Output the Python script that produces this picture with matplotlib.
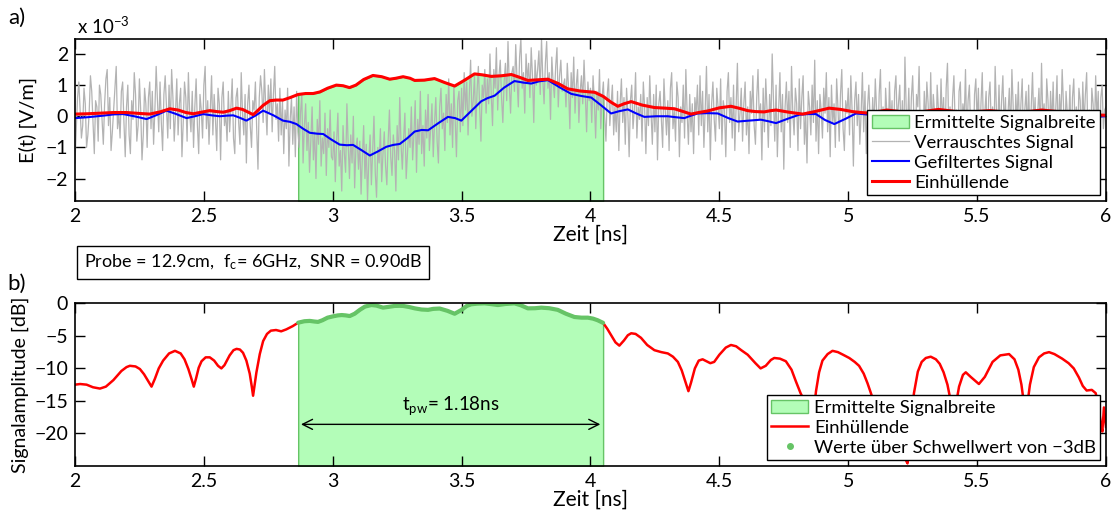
import numpy as np
import matplotlib
matplotlib.use('Agg')
import matplotlib.pyplot as plt
from matplotlib.lines import Line2D
from matplotlib.ticker import FormatStrFormatter

plt.rcParams['font.family'] = ['Lato', 'DejaVu Sans']
plt.rcParams['mathtext.default'] = 'regular'
plt.rcParams['axes.unicode_minus'] = True

# --- data (top panel, values in 1e-3 V/m; noisy in 1e-4 V/m steps of 0.005 ns) ---
noisy = [
    -15, -4, 6, 11, 2, -7, -3, 9, 4, -10, -6, 1, 13, 8, -2, -12, 5, 3, -8, 10,
    7, -1, -9, 4, 12, 15, -3, 6, -11, -5, 2, 9, 16, -4, 1, -7, 8, 11, -2, -13,
    3, 10, -6, -12, 5, -1, 14, 7, -8, -3, 12, 2, -14, -6, 9, 4, -10, 6, 11, -4,
    8, -9, 2, 16, 5, -5, 11, -2, -11, 7, 13, 3, -7, 10, -4, 15, 6, -8, 1, 12,
    -6, 4, 9, -13, -2, 11, 6, -8, 14, 1, -5, 8, -10, 3, 12, -3, -12, 7, 2, -7,
    10, 16, -4, 5, -9, 2, 13, -6, 7, -1, -11, 9, 4, -14, 6, 11, -3, 1, -8, 8,
    -5, 3, 12, -7, -12, 6, 9, -2, -9, 14, 1, -6, 7, -15, 4, 10, -3, -10, 5, 2,
    11, -4, -17, 6, 13, 8, -2, 15, 3, -6, 10, 1, 12, -5, 7, 16, -1, 4, -8, 9,
    -6, 5, -12, 2, -4, 9, -16, -1, 6, -9, 3, -13, 8, -5, -10, 1, 7, -15, -3, 4,
    -11, -2, -18, -8, 3, -14, -5, -20, -1, -9, 5, -16, -7, -12, 1, -19, -4, -10, 2, -13,
    -14, -5, -21, -8, 1, -16, -11, -24, -3, -12, -18, 4, -9, -20, -6, -15, 0, -23, -10, -7,
    -17, -8, -25, -13, -3, -20, -9, -27, -14, -6, -22, -11, 0, -18, -26, -10, -15, -4, -21, -12,
    -5, -16, -22, -8, 2, -13, -19, -6, -11, -24, -3, -14, 6, -9, -17, -7, 1, -20, -12, -4,
    -10, 3, -14, -6, 5, -18, -1, -9, 8, -12, -3, -16, 2, -7, 7, -11, -4, 4, -13, -2,
    6, -8, -15, 3, 9, -4, 1, -11, 7, -2, 12, -6, 4, -10, 10, -1, -13, 5, 8, -5,
    9, -3, 14, 2, 11, -6, 7, 18, 0, 5, 13, -4, 8, 16, 3, -8, 10, 6, 15, 1,
    12, 4, 20, 7, -3, 15, 9, 22, 2, 13, 18, 6, -2, 11, 17, 5, 24, 10, 1, 14,
    16, 8, 23, 12, 3, 19, 25, 9, 14, 1, 20, 11, 17, 6, 22, 13, -2, 18, 10, 15,
    21, 7, 25, 12, 4, 17, 24, 9, 14, -1, 19, 11, 6, 16, 22, 3, 13, 18, 8, 10,
    12, 3, 17, 9, -4, 14, 6, 19, 1, 10, 15, -2, 8, 13, 4, 18, 7, -5, 11, 5,
    9, -2, 13, 5, -7, 8, 2, 15, -4, 6, 11, 0, -8, 7, 12, -3, 4, 10, -6, 3,
    -5, 8, -11, 4, 12, -2, 6, -9, 9, 1, -13, 5, 10, -4, 2, 14, -7, 3, -1, 7,
    -8, 11, 3, -12, 6, -3, 13, 1, -9, 7, -5, 10, -14, 4, 8, -1, -10, 12, 2, -6,
    5, -11, 9, 14, -4, 2, -8, 11, 6, -13, 3, -2, 10, -7, 15, 1, -9, 7, -5, 4,
    -12, 6, 1, 10, -6, 13, -3, 8, -10, 2, 16, -5, 7, -14, 4, 11, -1, -8, 9, 3,
    -4, 12, -9, 5, 2, -13, 8, 14, -2, 6, -7, 10, -11, 3, 17, -5, 1, 9, -8, 4,
    11, -6, 3, -12, 8, 1, 13, -3, -9, 6, 15, -1, 4, -14, 9, -5, 12, 2, -10, 7,
    -3, 20, 5, -8, 10, -13, 2, 14, -5, 7, -17, 3, 11, -2, 8, -10, 16, 1, -6, 9,
    4, -11, 12, -4, 6, 13, -9, 1, -15, 8, 3, -6, 10, -2, 18, -8, 5, -12, 7, 2,
    -7, 9, 1, 14, -5, 6, -13, 10, -2, 4, -10, 12, 3, -8, 7, 15, -4, -11, 5, 1,
    9, -6, 13, 2, -16, 5, 11, -3, 7, -9, 1, 14, -5, 8, -12, 3, 10, -1, -7, 6,
    -4, 12, 2, -10, 7, 15, -6, 3, -13, 9, 1, -8, 11, -3, 5, -14, 8, 13, -2, 4,
    10, -7, 5, -12, 19, 2, -4, 9, -9, 6, 13, -1, -11, 7, 3, 16, -6, 1, -10, 8,
    -3, 11, 4, -8, 14, -5, 7, 1, -13, 10, 2, -6, 12, -2, 6, -11, 9, 17, -4, 3,
    -9, 6, 13, -3, 2, -12, 8, 11, -6, 4, -1, 15, -8, 5, 10, -4, 1, -14, 7, 12,
    -2, 9, -10, 4, 14, -6, 1, 8, -12, 6, 11, -3, 3, -9, 16, 2, -5, 10, -7, 5,
    13, -4, 6, -11, 1, 9, -7, 15, 3, -13, 7, -2, 11, -6, 4, 12, -9, 2, 8, -5,
    10, -8, 3, 14, -3, 6, -12, 1, 9, -5, 17, -1, 4, -10, 12, 5, -7, 8, -3, 11,
    -6, 2, 13, -9, 7, -2, 15, 4, -11, 8, 1, -5, 10, -13, 6, 12, -4, 3, -8, 9,
    5, -10, 11, -3, 7, 14, -7, 2, -12, 9, 4, -6, 13, -1, 8, -15, 6, 10, -4, 2,
    3]

filt_t = [2.000, 2.05, 2.110, 2.15, 2.187, 2.23, 2.278, 2.32, 2.355, 2.39,
          2.433, 2.465, 2.497, 2.53, 2.562, 2.59, 2.614, 2.64, 2.665, 2.70,
          2.730, 2.77, 2.807, 2.835, 2.859, 2.885, 2.911, 2.94, 2.963, 2.995,
          3.027, 3.055, 3.079, 3.11, 3.144, 3.175, 3.208, 3.235, 3.260, 3.29,
          3.318, 3.345, 3.370, 3.41, 3.447, 3.475, 3.499, 3.535, 3.576, 3.60,
          3.628, 3.665, 3.705, 3.74, 3.770, 3.80, 3.835, 3.88, 3.925, 3.965,
          4.003, 4.04, 4.080, 4.11, 4.145, 4.175, 4.209, 4.255, 4.300, 4.33,
          4.364, 4.39, 4.416, 4.455, 4.494, 4.535, 4.571, 4.615, 4.661, 4.69,
          4.720, 4.765, 4.810, 4.845, 4.875, 4.91, 4.946, 4.99, 5.030, 5.081,
          5.15, 5.25, 5.35, 5.45, 5.55, 5.65, 5.75, 5.85, 5.95, 6.0]
filt_v = [-0.06, -0.03, 0.02, 0.06, 0.07, 0.0, -0.09, 0.05, 0.18, 0.08,
          -0.06, 0.0, 0.07, 0.03, 0.0, 0.02, 0.03, -0.05, -0.14, 0.02,
          0.18, 0.03, -0.14, -0.18, -0.25, -0.40, -0.53, -0.56, -0.57, -0.75,
          -0.91, -0.93, -0.92, -1.08, -1.26, -1.13, -0.98, -0.92, -0.89, -0.70,
          -0.49, -0.44, -0.45, -0.22, -0.02, -0.06, -0.14, 0.15, 0.48, 0.58,
          0.66, 0.92, 1.13, 1.08, 1.05, 1.12, 1.16, 0.93, 0.72, 0.65,
          0.60, 0.36, 0.09, 0.16, 0.22, 0.10, -0.02, 0.0, 0.0, -0.03,
          -0.06, 0.02, 0.09, 0.10, 0.09, -0.06, -0.17, -0.14, -0.11, -0.16,
          -0.22, -0.08, 0.05, 0.07, 0.07, -0.12, -0.25, -0.08, 0.09, 0.05,
          -0.10, 0.10, -0.15, 0.05, -0.10, 0.10, -0.05, 0.05, -0.02, 0.0]

env_t = [2.000, 2.05, 2.10, 2.15, 2.20, 2.25, 2.29, 2.33, 2.368, 2.40,
         2.43, 2.459, 2.49, 2.523, 2.55, 2.575, 2.60, 2.627, 2.65, 2.675,
         2.691, 2.705, 2.73, 2.756, 2.78, 2.807, 2.835, 2.866, 2.895, 2.924,
         2.95, 2.98, 3.014, 3.04, 3.065, 3.09, 3.12, 3.156, 3.19, 3.221,
         3.245, 3.273, 3.30, 3.318, 3.355, 3.395, 3.435, 3.473, 3.51, 3.550,
         3.58, 3.615, 3.655, 3.693, 3.725, 3.757, 3.795, 3.835, 3.875, 3.912,
         3.96, 4.016, 4.049, 4.08, 4.106, 4.13, 4.158, 4.20, 4.248, 4.29,
         4.326, 4.36, 4.390, 4.42, 4.455, 4.50, 4.545, 4.58, 4.610, 4.64,
         4.674, 4.70, 4.720, 4.77, 4.823, 4.87, 4.926, 4.97, 5.016, 5.05,
         5.081, 5.15, 5.25, 5.35, 5.45, 5.55, 5.65, 5.75, 5.85, 5.95, 6.0]
env_v = [0.07, 0.08, 0.10, 0.12, 0.12, 0.09, 0.07, 0.14, 0.24, 0.20,
         0.12, 0.08, 0.13, 0.18, 0.15, 0.13, 0.18, 0.26, 0.22, 0.12,
         0.05, 0.15, 0.35, 0.50, 0.52, 0.52, 0.60, 0.70, 0.73, 0.73,
         0.78, 0.90, 1.00, 0.98, 0.92, 1.00, 1.18, 1.31, 1.27, 1.19,
         1.22, 1.27, 1.22, 1.15, 1.16, 1.21, 1.08, 0.97, 1.15, 1.36,
         1.33, 1.28, 1.30, 1.34, 1.25, 1.15, 1.17, 1.19, 1.05, 0.88,
         0.81, 0.77, 0.64, 0.45, 0.32, 0.40, 0.47, 0.36, 0.28, 0.26,
         0.24, 0.15, 0.07, 0.12, 0.17, 0.27, 0.32, 0.25, 0.18, 0.15,
         0.14, 0.18, 0.20, 0.13, 0.07, 0.15, 0.26, 0.22, 0.15, 0.12,
         0.10, 0.20, 0.10, 0.22, 0.12, 0.18, 0.10, 0.20, 0.12, 0.05, 0.03]

# --- data (bottom panel, dB) ---
db_t = [2.000, 2.02, 2.045, 2.07, 2.097, 2.12, 2.149, 2.18, 2.20, 2.213,
        2.235, 2.252, 2.268, 2.283, 2.297, 2.31, 2.325, 2.342, 2.365, 2.388,
        2.41, 2.425, 2.44, 2.452, 2.461, 2.47, 2.48, 2.491, 2.507, 2.523,
        2.54, 2.555, 2.568, 2.58, 2.60, 2.615, 2.627, 2.64, 2.652, 2.665,
        2.678, 2.686, 2.691, 2.697, 2.704, 2.717, 2.730, 2.745, 2.76, 2.78,
        2.80, 2.82, 2.845, 2.866,
        2.89, 2.911, 2.93, 2.943, 2.96, 2.98, 3.001, 3.02, 3.035, 3.05,
        3.066, 3.085, 3.105, 3.125, 3.150, 3.17, 3.195, 3.215, 3.240, 3.26,
        3.273, 3.295, 3.318, 3.345, 3.370, 3.39, 3.415, 3.445, 3.473, 3.50,
        3.52, 3.537, 3.56, 3.589, 3.615, 3.641, 3.67, 3.705, 3.73, 3.757,
        3.785, 3.809, 3.84, 3.873, 3.905, 3.938, 3.965, 3.990, 4.01, 4.028,
        4.049,
        4.065, 4.080, 4.097, 4.112, 4.13, 4.145, 4.158, 4.175, 4.196, 4.22,
        4.248, 4.275, 4.300, 4.32, 4.339, 4.354, 4.368, 4.380, 4.39, 4.405,
        4.42, 4.435, 4.45, 4.465, 4.48, 4.50, 4.525, 4.545, 4.565, 4.585,
        4.610, 4.64, 4.66, 4.68, 4.70, 4.713, 4.735, 4.758, 4.78, 4.797,
        4.815, 4.836, 4.85, 4.857, 4.865, 4.875, 4.887, 4.90, 4.92, 4.939,
        4.96, 4.98, 5.004, 5.025, 5.042, 5.06, 5.075, 5.088, 5.11, 5.14,
        5.17, 5.20, 5.225, 5.23, 5.236, 5.245, 5.255, 5.27, 5.285, 5.301,
        5.32, 5.34, 5.355, 5.37, 5.385, 5.40, 5.41, 5.418, 5.43, 5.445,
        5.456, 5.475, 5.507, 5.53, 5.56, 5.59, 5.624, 5.645, 5.66, 5.672,
        5.682, 5.688, 5.695, 5.705, 5.72, 5.74, 5.76, 5.779, 5.80, 5.83,
        5.855, 5.875, 5.895, 5.91, 5.925, 5.945, 5.96, 5.97, 5.98, 5.986,
        5.992, 5.996, 6.0]
db_v = [-12.5, -12.4, -12.5, -12.9, -13.1, -12.8, -11.8, -10.4, -9.8, -9.6,
        -9.7, -10.1, -10.9, -11.9, -12.8, -11.6, -10.0, -8.8, -7.7, -7.3,
        -7.7, -8.6, -10.1, -11.6, -12.8, -11.5, -9.9, -8.9, -8.3, -8.3,
        -8.8, -9.6, -10.0, -9.5, -8.0, -7.2, -7.0, -7.1, -7.6, -8.8,
        -10.8, -12.8, -14.2, -12.5, -10.6, -7.8, -5.8, -4.7, -4.2, -4.1,
        -4.3, -4.0, -3.5, -2.97,
        -2.75, -2.7, -2.8, -2.85, -2.6, -2.2, -2.0, -1.85, -1.8, -1.85,
        -1.95, -1.6, -1.0, -0.5, -0.26, -0.35, -0.66, -0.55, -0.4, -0.38,
        -0.4, -0.55, -0.77, -0.95, -1.0, -0.85, -0.8, -1.15, -1.6, -1.0,
        -0.4, -0.15, -0.05, 0.0, -0.12, -0.26, -0.1, 0.0, -0.3, -0.77,
        -0.75, -0.66, -0.75, -1.0, -1.6, -2.1, -2.2, -2.2, -2.35, -2.6,
        -3.0,
        -3.9, -4.9, -6.0, -6.5, -5.7, -4.9, -4.6, -4.7, -5.3, -6.4,
        -7.2, -7.5, -7.7, -8.2, -9.0, -10.3, -12.0, -13.5, -12.2, -10.0,
        -8.8, -8.6, -8.9, -9.2, -9.0, -7.9, -6.8, -6.4, -6.6, -7.2,
        -7.9, -9.2, -10.0, -9.6, -8.7, -8.4, -8.5, -8.9, -10.2, -12.0,
        -13.8, -15.5, -18.5, -20.0, -17.0, -13.5, -10.6, -8.8, -7.8, -7.3,
        -7.5, -7.9, -8.4, -9.0, -9.6, -10.8, -12.3, -13.8, -16.5, -18.0,
        -19.5, -21.5, -24.2, -24.6, -22.5, -17.5, -13.8, -10.5, -9.0, -8.4,
        -8.2, -8.6, -9.3, -10.6, -12.5, -15.5, -18.5, -15.5, -12.8, -11.0,
        -10.6, -11.3, -12.4, -11.3, -9.0, -8.0, -7.8, -8.6, -10.2, -12.5,
        -15.5, -18.5, -15.5, -12.5, -9.8, -8.3, -7.7, -7.5, -7.8, -8.5,
        -9.2, -10.0, -11.4, -12.7, -13.4, -13.3, -13.8, -15.5, -18.5, -19.7,
        -16.0, -17.5, -19.0]

t_start, t_end = 2.866, 4.049
pw_text = r'$t_{pw}$= 1.18ns'
info_text = r'Probe = 12.9cm,  $f_c$= 6GHz,  SNR = 0.90dB'

fill_c = '#b3fdb8'
fill_e = '#66c466'
green = '#66c466'

fig = plt.figure(figsize=(11.14, 5.18), dpi=100)
ax1 = fig.add_axes([0.0673, 0.612, 0.9255, 0.3127])
ax2 = fig.add_axes([0.0673, 0.1004, 0.9255, 0.3140])

# ---- panel a ----
noisy_v = np.array(noisy) / 10.0
noisy_t = np.linspace(2, 6, len(noisy_v))
et = np.array(env_t)
ev = np.array(env_v)
m = (et >= t_start - 1e-9) & (et <= t_end + 1e-9)
ylo, yhi = -2.72, 2.48
ax1.fill_between(et[m], ylo, ev[m], facecolor=fill_c, edgecolor=fill_e,
                 linewidth=1, label='Ermittelte Signalbreite')
ax1.plot(noisy_t, noisy_v, color='#b3b3b3', lw=0.9, label='Verrauschtes Signal')
ax1.plot(filt_t, filt_v, color='#0000ff', lw=1.5, label='Gefiltertes Signal')
ax1.plot(env_t, env_v, color='#ff0000', lw=2.2, label='Einhüllende')
ax1.set_xlim(2, 6)
ax1.set_ylim(ylo, yhi)
ax1.set_yticks([-2, -1, 0, 1, 2])
ax1.set_xlabel('Zeit [ns]', fontsize=15, labelpad=0)
ax1.set_ylabel('E(t) [V/m]', fontsize=14.5, labelpad=6)
leg_kw = dict(loc='lower right', fontsize=13.3, fancybox=False, framealpha=1,
              edgecolor='black', borderaxespad=0.3, handlelength=2.0,
              handletextpad=0.3, labelspacing=0.22, borderpad=0.25)
leg1 = ax1.legend(**leg_kw)
leg1.get_frame().set_linewidth(1.0)
fig.text(0.069, 0.950, r'x 10$^{-3}$', fontsize=13.5, va='center')

# ---- panel b ----
dt = np.array(db_t)
dv = np.array(db_v)
g = (dt >= t_start - 1e-9) & (dt <= t_end + 1e-9)
ax2.fill_between(dt[g], -25, dv[g], facecolor=fill_c, edgecolor=fill_e,
                 linewidth=1, label='Ermittelte Signalbreite')
ax2.plot(dt, dv, color='#ff0000', lw=1.8, label='Einhüllende')
ax2.plot(dt[g], dv[g], color=green, lw=3, solid_capstyle='round')
ax2.annotate('', xy=(t_start, -18.6), xytext=(t_end, -18.6),
             arrowprops=dict(arrowstyle='<->', color='black', lw=1, mutation_scale=18))
ax2.text((t_start + t_end) / 2, -17.5, pw_text, ha='center', va='bottom', fontsize=13.5)
ax2.set_xlim(2, 6)
ax2.set_ylim(-25, 0)
ax2.set_yticks([-20, -15, -10, -5, 0])
ax2.set_xlabel('Zeit [ns]', fontsize=15, labelpad=0)
ax2.set_ylabel('Signalamplitude [dB]', fontsize=14, labelpad=4)
handles, labels = ax2.get_legend_handles_labels()
handles.append(Line2D([], [], ls='none', marker='o', markersize=4, color=green))
labels.append('Werte über Schwellwert von −3dB')
leg2 = ax2.legend(handles, labels, **leg_kw)
leg2.get_frame().set_linewidth(1.0)

for ax in (ax1, ax2):
    ax.set_xticks([2, 2.5, 3, 3.5, 4, 4.5, 5, 5.5, 6])
    ax.xaxis.set_major_formatter(FormatStrFormatter('%g'))
    ax.tick_params(direction='in', length=7, width=1, top=True, right=True,
                   labelsize=14, pad=5)
    for s in ax.spines.values():
        s.set_linewidth(1.2)

fig.text(0.007, 0.965, 'a)', fontsize=16, va='center')
fig.text(0.007, 0.452, 'b)', fontsize=16, va='center')
fig.text(0.075, 0.494, info_text, fontsize=13, va='center',
         bbox=dict(boxstyle='square,pad=0.38', facecolor='white', edgecolor='black', lw=1))

plt.savefig('out.png', dpi=100)
